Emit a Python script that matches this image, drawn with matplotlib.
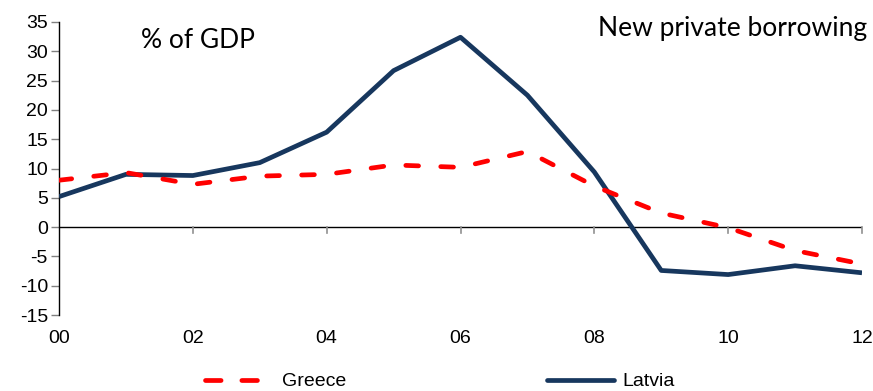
import matplotlib
matplotlib.use("Agg")
import matplotlib.pyplot as plt
from matplotlib.lines import Line2D

years = list(range(2000, 2013))
tick_years = [2000, 2002, 2004, 2006, 2008, 2010, 2012]
tick_labels = ["00", "02", "04", "06", "08", "10", "12"]
y_ticks = [-15, -10, -5, 0, 5, 10, 15, 20, 25, 30, 35]

greece = [8.0, 9.3, 7.3, 8.7, 9.0, 10.6, 10.2, 12.9, 7.0, 2.4, -0.1, -4.0, -6.3]
latvia = [5.2, 9.0, 8.8, 11.0, 16.2, 26.7, 32.4, 22.5, 9.4, -7.4, -8.1, -6.6, -7.8]

GREECE_RED = "#FF0000"
LATVIA_NAVY = "#17375E"
W, H = 873, 391
LW = 3.4
DASH = (2.7, 4.7)

fig = plt.figure(figsize=(W / 100, H / 100), dpi=100)
ax = fig.add_axes([59 / W, 1 - 315 / H, (862 - 59) / W, (315 - 22) / H])

ax.plot(years, latvia, color=LATVIA_NAVY, lw=LW, solid_joinstyle="round",
        solid_capstyle="butt", zorder=3)
ax.plot(years, greece, color=GREECE_RED, lw=LW, dashes=DASH,
        dash_capstyle="round", zorder=4)

ax.set_xlim(2000, 2012)
ax.set_ylim(-15, 35)

# frame: only the left spine, plus a horizontal axis line at zero
for s in ("top", "right", "bottom"):
    ax.spines[s].set_visible(False)
ax.spines["left"].set_color("black")
ax.spines["left"].set_linewidth(1.0)
ax.axhline(0, color="black", lw=1.0, zorder=2)

ax.set_yticks(y_ticks)
ax.set_yticklabels([str(v) for v in y_ticks], fontfamily="Liberation Sans", fontsize=14)
ax.tick_params(axis="y", direction="out", length=6, color="#808080", width=1, pad=2)

ax.set_xticks(tick_years)
ax.set_xticklabels(tick_labels, fontfamily="Liberation Sans", fontsize=14)
ax.tick_params(axis="x", direction="out", length=0, pad=11)
for x in tick_years[1:]:
    ax.plot([x, x], [0, -1.0], color="#909090", lw=1.2, clip_on=False, zorder=2)

fig.text(197.5 / W, 1 - 47.7 / H, "% of GDP", ha="center", va="baseline",
         fontfamily="Lato", fontsize=19)
fig.text(867 / W, 1 - 36 / H, "New private borrowing", ha="right", va="baseline",
         fontfamily="Lato", fontsize=19)

# legend drawn in figure pixels
leg_y = 1 - 379.5 / H
txt_y = 1 - 386.5 / H
fig.add_artist(Line2D([205.3 / W, 256.7 / W], [leg_y, leg_y], color=GREECE_RED, lw=LW,
                      dashes=(3.3, 4.4), dash_capstyle="round"))
fig.text(282 / W, txt_y, "Greece", ha="left", va="baseline",
         fontfamily="Liberation Sans", fontsize=14)
fig.add_artist(Line2D([547.3 / W, 613.7 / W], [leg_y, leg_y], color=LATVIA_NAVY, lw=LW,
                      solid_capstyle="round"))
fig.text(622.5 / W, txt_y, "Latvia", ha="left", va="baseline",
         fontfamily="Liberation Sans", fontsize=14)

fig.savefig("out.png", dpi=100)
